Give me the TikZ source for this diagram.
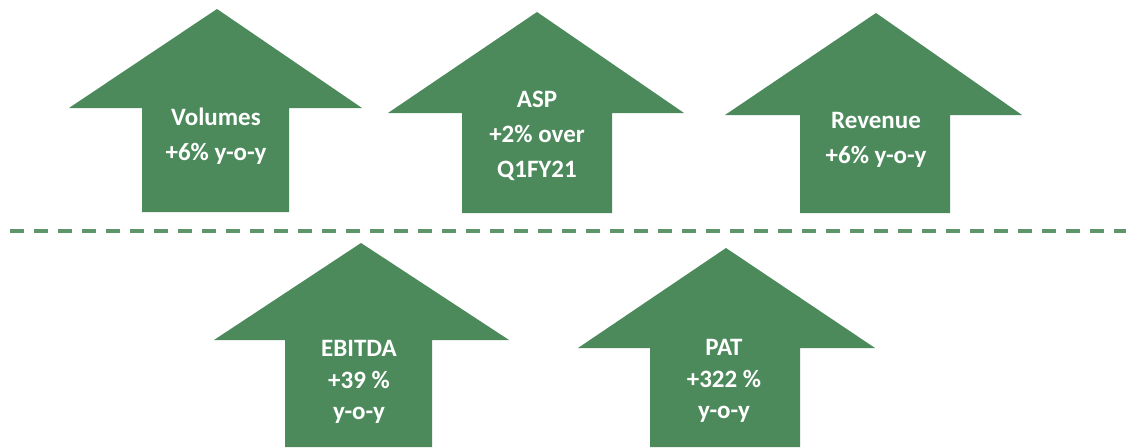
\documentclass[tikz,border=0pt]{standalone}
\usepackage{fontspec}
\setmainfont{Carlito}
\definecolor{arrgreen}{RGB}{76,138,92}
\begin{document}
\begin{tikzpicture}[x=1pt,y=-1pt,
  uparr/.style={fill=arrgreen,draw=none},
  lbl/.style={text=white,align=center,font=\fontsize{25}{35}\selectfont\bfseries,inner sep=0pt},
  lbltwo/.style={text=white,align=center,font=\fontsize{25}{31.5}\selectfont\bfseries,inner sep=0pt},
  sep/.style={draw=arrgreen!90,line width=4pt,dash pattern=on 14pt off 10pt}]
\useasboundingbox (0,0) rectangle (1134,447);
% arrows (top row)
\fill[uparr] (217,9) -- (362,108) -- (289,108) -- (289,212) -- (142,212) -- (142,108) -- (69,108) -- cycle;
\fill[uparr] (537,12) -- (684,113) -- (612,113) -- (612,213) -- (462,213) -- (462,113) -- (388,113) -- cycle;
\fill[uparr] (876,13) -- (1022,115) -- (950,115) -- (950,213) -- (800,213) -- (800,115) -- (725,115) -- cycle;
% arrows (bottom row)
\fill[uparr] (361,243) -- (509,340) -- (432,340) -- (432,447) -- (285,447) -- (285,340) -- (214,340) -- cycle;
\fill[uparr] (726,248) -- (875,348) -- (800,348) -- (800,447) -- (650,447) -- (650,348) -- (578,348) -- cycle;
% separator
\coordinate (sl) at (10,231);
\coordinate (sr) at (1126,231);
\draw[sep] (sl) -- (sr);
% labels
\node[lbl] (vol) at (216,136) {Volumes\\+6\% y-o-y};
\node[lbl] (asp) at (537,136) {ASP\\+2\% over\\Q1FY21};
\node[lbl] (rev) at (876,140) {Revenue\\+6\% y-o-y};
\node[lbltwo] (ebi) at (359,382) {EBITDA\\+39 \%\\y-o-y};
\node[lbltwo] (pat) at (724,381) {PAT\\+322 \%\\y-o-y};
\end{tikzpicture}
\end{document}
